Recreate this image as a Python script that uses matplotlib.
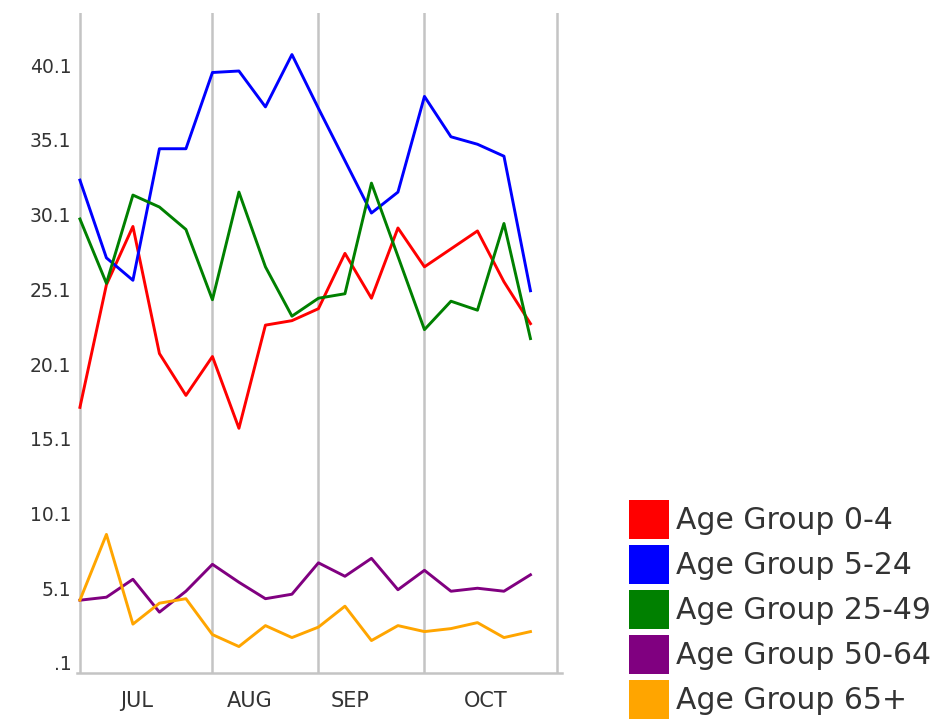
import numpy as np
import matplotlib
matplotlib.use("Agg")
import matplotlib.pyplot as plt
from matplotlib.patches import Patch

# weekly values, Jul - Oct
weeks = np.arange(18)
age_0_4 = [17.2, 25.4, 29.3, 20.8, 18.0, 20.6, 15.8, 22.7, 23.0, 23.8, 27.5, 24.5,
           29.2, 26.6, 27.8, 29.0, 25.6, 22.8]
age_5_24 = [32.4, 27.2, 25.7, 34.5, 34.5, 39.6, 39.7, 37.3, 40.8, 37.2, 33.7, 30.2,
            31.6, 38.0, 35.3, 34.8, 34.0, 25.0]
age_25_49 = [29.8, 25.5, 31.4, 30.6, 29.1, 24.4, 31.6, 26.6, 23.3, 24.5, 24.8, 32.2,
             27.3, 22.4, 24.3, 23.7, 29.5, 21.8]
age_50_64 = [4.3, 4.5, 5.7, 3.5, 4.9, 6.7, 5.5, 4.4, 4.7, 6.8, 5.9, 7.1,
             5.0, 6.3, 4.9, 5.1, 4.9, 6.0]
age_65 = [4.3, 8.7, 2.7, 4.1, 4.4, 2.0, 1.2, 2.6, 1.8, 2.5, 3.9, 1.6,
          2.6, 2.2, 2.4, 2.8, 1.8, 2.2]

series = [age_0_4, age_5_24, age_25_49, age_50_64, age_65]
labels = ['Age Group 0-4', 'Age Group 5-24', 'Age Group 25-49',
          'Age Group 50-64', 'Age Group 65+']
colors = ['#ff0000', '#0000ff', '#008000', '#800080', '#ffa500']

months = ['JUL', 'AUG', 'SEP', 'OCT']
month_edges = [0, 5, 9, 13, 18]
month_label_pos = [2.15, 6.4, 10.2, 15.3]

y_ticks = [0.1, 5.1, 10.1, 15.1, 20.1, 25.1, 30.1, 35.1, 40.1]
y_tick_labels = ['.1', '5.1', '10.1', '15.1', '20.1', '25.1', '30.1', '35.1', '40.1']

fig = plt.figure(figsize=(9.38, 7.21), dpi=100)
ax = fig.add_axes([77/938, 1 - 673/721, (562 - 77)/938, (673 - 13)/721])

grid_col = '#c4c4c4'
for e in month_edges:
    ax.axvline(e, color=grid_col, linewidth=1.8, zorder=1)

for vals, c in zip(series, colors):
    ax.plot(weeks, vals, color=c, linewidth=2.1, zorder=3)

ax.set_xlim(-0.11, 18.19)
ax.set_ylim(-0.57, 43.58)

for s in ['top', 'right', 'left']:
    ax.spines[s].set_visible(False)
ax.spines['bottom'].set_color(grid_col)
ax.spines['bottom'].set_linewidth(1.8)

ax.set_yticks(y_ticks)
ax.set_yticklabels(y_tick_labels)
ax.set_xticks(month_label_pos)
ax.set_xticklabels(months)
ax.tick_params(axis='y', length=0, pad=4, labelsize=13.5, labelcolor='#333333')
ax.tick_params(axis='x', length=0, pad=13, labelsize=15, labelcolor='#333333')

handles = [Patch(facecolor=c, edgecolor='none') for c in colors]
fig.legend(handles=handles, labels=labels, loc='upper left',
           bbox_to_anchor=(629/938, 1 - 500/721), frameon=False,
           fontsize=21.5, handlelength=1.34, handleheight=1.63,
           handletextpad=0.22, labelspacing=0.2, borderpad=0, borderaxespad=0,
           labelcolor='#333333')

fig.savefig('out.png', dpi=100)
